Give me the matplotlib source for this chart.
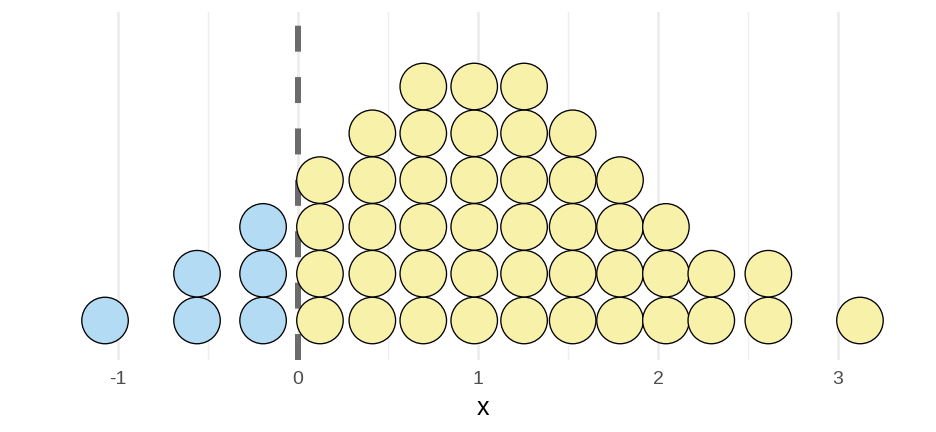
import matplotlib
matplotlib.use("Agg")
import matplotlib.pyplot as plt
import numpy as np

# binned dot positions and stack counts
bin_x = [-1.072, -0.561, -0.194, 0.122, 0.413, 0.696, 0.979, 1.256,
         1.526, 1.789, 2.044, 2.296, 2.613, 3.122]
counts = [1, 2, 3, 4, 5, 6, 6, 6, 5, 4, 3, 2, 2, 1]
threshold = 0.0
ticks = [-1, 0, 1, 2, 3]
tick_labels = ["-1", "0", "1", "2", "3"]
minor_ticks = [-0.5, 0.5, 1.5, 2.5]
blue = "#B3DBF4"
yellow = "#F7F1AA"

plt.rcParams['font.family'] = ['Liberation Sans', 'DejaVu Sans']

W, H = 936, 432
fig = plt.figure(figsize=(W / 100, H / 100), dpi=100)
left, right, top, bottom = 70, 895, 12, 360
ax = fig.add_axes([left / W, (H - bottom) / H, (right - left) / W, (bottom - top) / H])

px_per_unit = 180.0
x0px = 298
ax.set_xlim((left - x0px) / px_per_unit, (right - x0px) / px_per_unit)
row_px = 46.8
ax.set_ylim(-39.5 / row_px, (bottom - top - 39.5) / row_px)

xs, ys, cs = [], [], []
for x, c in zip(bin_x, counts):
    for i in range(c):
        xs.append(x)
        ys.append(i)
        cs.append(blue if x < threshold else yellow)

diam_pt = 46.5 * 72 / 100
ax.scatter(xs, ys, s=diam_pt ** 2, c=cs, edgecolors="black", linewidths=0.95, zorder=3)

plt.rcParams['lines.scale_dashes'] = False
ax.axvline(threshold, color="#6B6B6B", linewidth=6 * 0.72, dashes=(18.7, 18.3), zorder=2,
           solid_capstyle="butt", dash_capstyle="butt")

for t in ticks:
    ax.axvline(t, color="#EBEBEB", linewidth=1.8, zorder=0)
for t in minor_ticks:
    ax.axvline(t, color="#EEEEEE", linewidth=1.0, zorder=0)

ax.set_xticks(ticks)
ax.set_xticklabels(tick_labels)
ax.set_yticks([])
ax.tick_params(axis="x", length=0, pad=8, labelsize=14, labelcolor="#4D4D4D")
for s in ax.spines.values():
    s.set_visible(False)
ax.set_xlabel("x", fontsize=18, color="black", labelpad=6)

fig.savefig("out.png", dpi=100)
